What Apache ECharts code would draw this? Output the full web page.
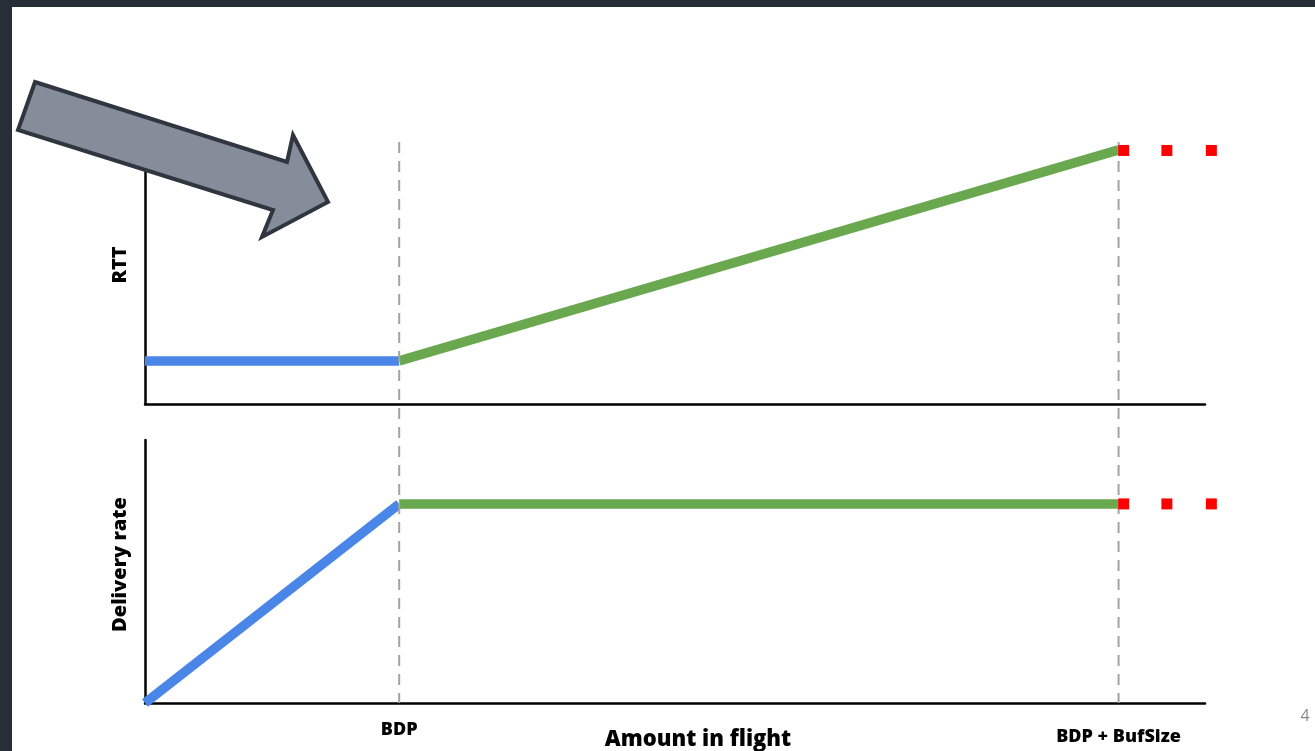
<!DOCTYPE html>
<html>
<head>
<meta charset="utf-8">
<script src="https://cdn.jsdelivr.net/npm/echarts@6/dist/echarts.min.js"></script>
<style>
  html, body { margin: 0; padding: 0; background: #ffffff; }
  #chart { width: 1315px; height: 751px; }
</style>
</head>
<body>
<div id="chart"></div>
<script>
// ---- data (abstract units; x: BDP = 100) ----
const X_MAX = 417;
const BDP = 100;
const BDP_BUF = 383;
const tickValues = [BDP, BDP_BUF];
const tickLabels = ['BDP', 'BDP + BufSize'];

// RTT panel
const rttBlue = [[0, 15.5], [BDP, 15.5]];
const rttGreen = [[BDP, 15.5], [BDP_BUF, 91.4]];
const rttDots = [[385, 91.2], [402, 91.2], [419.5, 91.2]];

// Delivery rate panel
const rateBlue = [[0, 0], [BDP, 75.7]];
const rateGreen = [[BDP, 75.7], [BDP_BUF, 75.7]];
const rateDots = [[385, 75.7], [402, 75.7], [419.5, 75.7]];

const BLUE = '#4a86e8', GREEN = '#6aa84f', RED = '#ff0000';
const FONT = 'Open Sans';
const W = 800;

const chart = echarts.init(document.getElementById('chart'), null, { renderer: 'canvas' });

const axisLine = { show: true, onZero: false, lineStyle: { color: '#000', width: 2.5 } };
function xAx(gridIndex, extra) {
  return Object.assign({
    type: 'value', gridIndex, min: 0, max: X_MAX,
    axisLine, axisTick: { show: false }, axisLabel: { show: false }, splitLine: { show: false }
  }, extra || {});
}
function yAx(gridIndex, name, pad) {
  return {
    type: 'value', gridIndex, min: 0, max: 100,
    axisLine, axisTick: { show: false }, axisLabel: { show: false }, splitLine: { show: false },
    name, nameLocation: 'middle', nameRotate: 90, nameGap: 15,
    nameTextStyle: { fontFamily: FONT, fontWeight: W, fontSize: 20, color: '#000', padding: pad }
  };
}
function lineS(x, y, data, color) {
  return { type: 'line', xAxisIndex: x, yAxisIndex: y, data, symbol: 'none', silent: true,
    lineStyle: { color, width: 9.5, cap: 'butt' }, z: 3, clip: false };
}
function dotS(x, y, data) {
  return { type: 'scatter', xAxisIndex: x, yAxisIndex: y, data, symbol: 'rect', symbolSize: 11,
    itemStyle: { color: RED, opacity: 1 }, z: 5, clip: false, silent: true };
}
function dashS(xv) {
  return { type: 'line', xAxisIndex: 2, yAxisIndex: 2, data: [[xv, 1], [xv, 0]], symbol: 'none', silent: true,
    lineStyle: { color: '#a3a3a3', width: 2, type: [11, 8] }, z: 4 };
}
const gridBase = { left: 145, right: 110, outerBoundsMode: 'none', containLabel: false };

chart.setOption({
  animation: false,
  backgroundColor: '#ffffff',
  grid: [
    Object.assign({ top: 126, bottom: 751 - 404 }, gridBase),
    Object.assign({ top: 440, bottom: 751 - 703 }, gridBase),
    Object.assign({ top: 142, bottom: 751 - 703 }, gridBase)
  ],
  xAxis: [
    xAx(0),
    xAx(1, {
      axisLabel: {
        show: true, customValues: tickValues, margin: 16,
        formatter: (v) => v === BDP ? '{a|' + tickLabels[0] + '}' : '{b|' + tickLabels[1] + '}',
        rich: {
          a: { fontFamily: FONT, fontWeight: W, fontSize: 18, color: '#000', lineHeight: 22 },
          b: { fontFamily: FONT, fontWeight: W, fontSize: 18, color: '#000', lineHeight: 22, padding: [13, 0, 0, 0] }
        }
      }
    }),
    xAx(2, {
      axisLine: { show: false },
      name: 'Amount in flight', nameLocation: 'middle', nameGap: 26,
      nameTextStyle: { fontFamily: FONT, fontWeight: W, fontSize: 22, color: '#000', verticalAlign: 'top', padding: [0, 0, 0, 46] }
    })
  ],
  yAxis: [
    yAx(0, 'RTT', [0, 0, 0, 0]),
    yAx(1, 'Delivery rate', [0, 0, 0, 14]),
    { type: 'value', gridIndex: 2, min: 0, max: 1, show: false }
  ],
  series: [
    lineS(0, 0, rttBlue, BLUE),
    lineS(0, 0, rttGreen, GREEN),
    dotS(0, 0, rttDots),
    lineS(1, 1, rateBlue, BLUE),
    lineS(1, 1, rateGreen, GREEN),
    dotS(1, 1, rateDots),
    dashS(BDP),
    dashS(BDP_BUF)
  ],
  graphic: [
    { type: 'rect', shape: { x: 0, y: 0, width: 1315, height: 7 }, style: { fill: '#262e37' }, z: 100, silent: true },
    { type: 'rect', shape: { x: 0, y: 0, width: 12, height: 751 }, style: { fill: '#262e37' }, z: 100, silent: true },
    { type: 'polygon', z: 90, silent: true,
      shape: { points: [[35, 82], [287, 162], [293, 135], [328, 202], [262, 237], [273, 210], [18, 130]] },
      style: { fill: '#858d9b', stroke: '#30363f', lineWidth: 4, lineJoin: 'miter' } },
    { type: 'text', x: 1305, y: 716, z: 90, silent: true,
      style: { text: '4', fill: '#8a8a8a', font: '16px "Open Sans"', align: 'center', verticalAlign: 'middle' } }
  ]
});
</script>
</body>
</html>
